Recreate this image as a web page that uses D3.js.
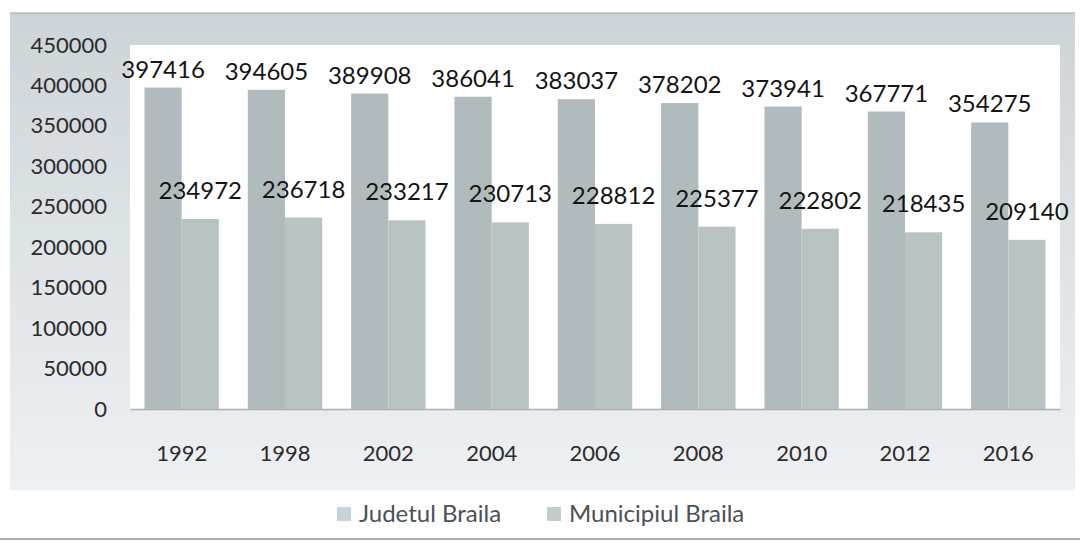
<!DOCTYPE html>
<html>
<head>
<meta charset="utf-8">
<script src="https://cdn.jsdelivr.net/npm/d3@7"></script>
<style>
  html, body { margin: 0; padding: 0; background: #fff; }
  svg { display: block; }
</style>
</head>
<body>
<script>
// values
const years = ["1992", "1998", "2002", "2004", "2006", "2008", "2010", "2012", "2016"]
const judetul = [397416, 394605, 389908, 386041, 383037, 378202, 373941, 367771, 354275]
const municipiul = [234972, 236718, 233217, 230713, 228812, 225377, 222802, 218435, 209140]
const seriesNames = ["Judetul Braila", "Municipiul Braila"]
const yTicks = [0, 50000, 100000, 150000, 200000, 250000, 300000, 350000, 400000, 450000]

const W = 1080, H = 553
const plot = { left: 130, right: 1060, top: 45, bottom: 409 }
const colors = ["#b1bbbe", "#bac3c4"]
const legendColors = ["#c9d3d8", "#c4cccc"]
const font = "Lato, 'Open Sans', sans-serif"

let svg = d3.select("body").append("svg")
    .attr("width", W)
    .attr("height", H)

let defs = svg.append("defs")
let grad = defs.append("linearGradient")
    .attr("id", "frame")
    .attr("x1", 0).attr("y1", 0).attr("x2", 0).attr("y2", 1)
grad.append("stop").attr("offset", "0%").attr("stop-color", "#cdd4d8")
grad.append("stop").attr("offset", "45%").attr("stop-color", "#dde2e5")
grad.append("stop").attr("offset", "100%").attr("stop-color", "#eef1f3")

// grey outer frame + white plot area
svg.append("rect")
    .attr("x", 10).attr("y", 13)
    .attr("width", 1065).attr("height", 477)
    .attr("fill", "url(#frame)")
svg.append("line")
    .attr("x1", 10).attr("x2", 1075)
    .attr("y1", 13).attr("y2", 13)
    .attr("stroke", "#9aa3a8")
    .attr("stroke-width", 1)
svg.append("rect")
    .attr("x", plot.left).attr("y", plot.top)
    .attr("width", plot.right - plot.left)
    .attr("height", plot.bottom - plot.top)
    .attr("fill", "#ffffff")

// bottom rule of the scan
svg.append("line")
    .attr("x1", 0).attr("x2", W)
    .attr("y1", 539).attr("y2", 539)
    .attr("stroke", "#8a8f92")
    .attr("stroke-width", 1.5)

let x = d3.scaleBand()
    .domain(years)
    .range([plot.left, plot.right])
    .paddingInner(0.28)
    .paddingOuter(0.14)

let xSub = d3.scaleBand()
    .domain([0, 1])
    .range([0, x.bandwidth()])

let y = d3.scaleLinear()
    .domain([0, 450000])
    .range([plot.bottom, plot.top])

// y axis labels
let yAxis = svg.append("g")
    .attr("transform", `translate(${plot.left - 23},0)`)
    .call(d3.axisLeft(y).tickValues(yTicks).tickSize(0).tickPadding(0).tickFormat(d3.format("d")))
yAxis.select(".domain").remove()
yAxis.selectAll("text")
    .attr("fill", "#2b2b2b")
    .style("font-family", font)
    .style("font-size", "22px")

// x axis
let xAxis = svg.append("g")
    .attr("transform", `translate(0,${plot.bottom})`)
    .call(d3.axisBottom(x).tickSize(0).tickPadding(36))
xAxis.select(".domain")
    .attr("stroke", "#a9b0b3")
    .attr("stroke-width", 1.5)
xAxis.selectAll("text")
    .attr("fill", "#2b2b2b")
    .style("font-family", font)
    .style("font-size", "22px")

let series = [judetul, municipiul]
let labelGap = [10, 20]

series.forEach(function (vals, s) {
    let g = svg.append("g")
    g.selectAll("rect")
        .data(vals)
        .join("rect")
        .attr("x", (d, i) => x(years[i]) + xSub(s))
        .attr("y", d => y(d))
        .attr("width", xSub.bandwidth())
        .attr("height", d => y(0) - y(d))
        .attr("fill", colors[s])

    g.selectAll("text")
        .data(vals)
        .join("text")
        .attr("x", (d, i) => x(years[i]) + xSub(s) + xSub.bandwidth() / 2)
        .attr("y", d => y(d) - labelGap[s])
        .attr("text-anchor", "middle")
        .attr("fill", "#141414")
        .style("font-family", font)
        .style("font-size", "24px")
        .text(d => d)
})

// legend
let legend = svg.append("g")
let legendX = [337, 547]
seriesNames.forEach(function (name, s) {
    legend.append("rect")
        .attr("x", legendX[s])
        .attr("y", 507)
        .attr("width", 14)
        .attr("height", 14)
        .attr("fill", legendColors[s])
    legend.append("text")
        .attr("x", legendX[s] + 22)
        .attr("y", 522)
        .attr("fill", "#4a5255")
        .style("font-family", font)
        .style("font-size", "24px")
        .text(name)
})
</script>
</body>
</html>
